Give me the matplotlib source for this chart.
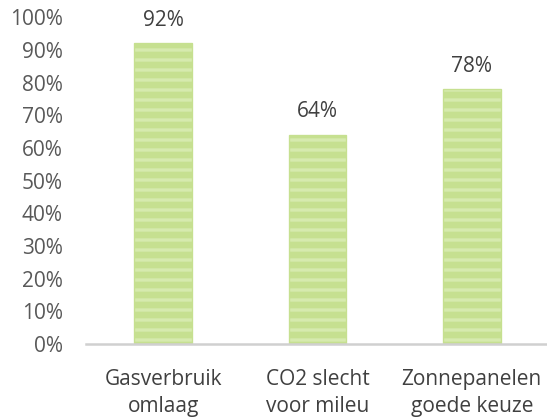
import matplotlib.pyplot as plt
import matplotlib as mpl

categories = ["Gasverbruik\nomlaag", "CO2 slecht\nvoor mileu", "Zonnepanelen\ngoede keuze"]
values = [92, 64, 78]
yticks = [0, 10, 20, 30, 40, 50, 60, 70, 80, 90, 100]

plt.rcParams['font.family'] = ['Open Sans', 'DejaVu Sans']
mpl.rcParams['hatch.linewidth'] = 4.0
mpl.rcParams['hatch.color'] = '#badb7e'

DPI = 120
fig = plt.figure(figsize=(547 / DPI, 419 / DPI), dpi=DPI)
ax = fig.add_axes([0.1572, 0.179, 0.8465, 0.780])

x = range(len(categories))
ax.bar(x, values, width=0.375, color='#d6eaae', edgecolor='#c6e090',
       linewidth=0.8, hatch='--')

FS = 12.5
for xi, v in zip(x, values):
    ax.text(xi, v + 3.8, f"{v}%", ha='center', va='bottom', fontsize=FS, color='#404040')

ax.set_xlim(-0.5, 2.5)
ax.set_ylim(0, 100)
ax.set_yticks(yticks)
ax.set_yticklabels([f"{t}%" for t in yticks], fontsize=FS, color='#595959')
ax.set_xticks(list(x))
ax.set_xticklabels(categories, fontsize=FS, color='#404040', linespacing=1.35)
ax.tick_params(axis='both', length=0)
ax.tick_params(axis='x', pad=15)
ax.tick_params(axis='y', pad=14)

for s in ['top', 'right', 'left']:
    ax.spines[s].set_visible(False)
ax.spines['bottom'].set_color('#d0d0d0')
ax.spines['bottom'].set_linewidth(1.5)

fig.savefig('out.png', dpi=DPI)
